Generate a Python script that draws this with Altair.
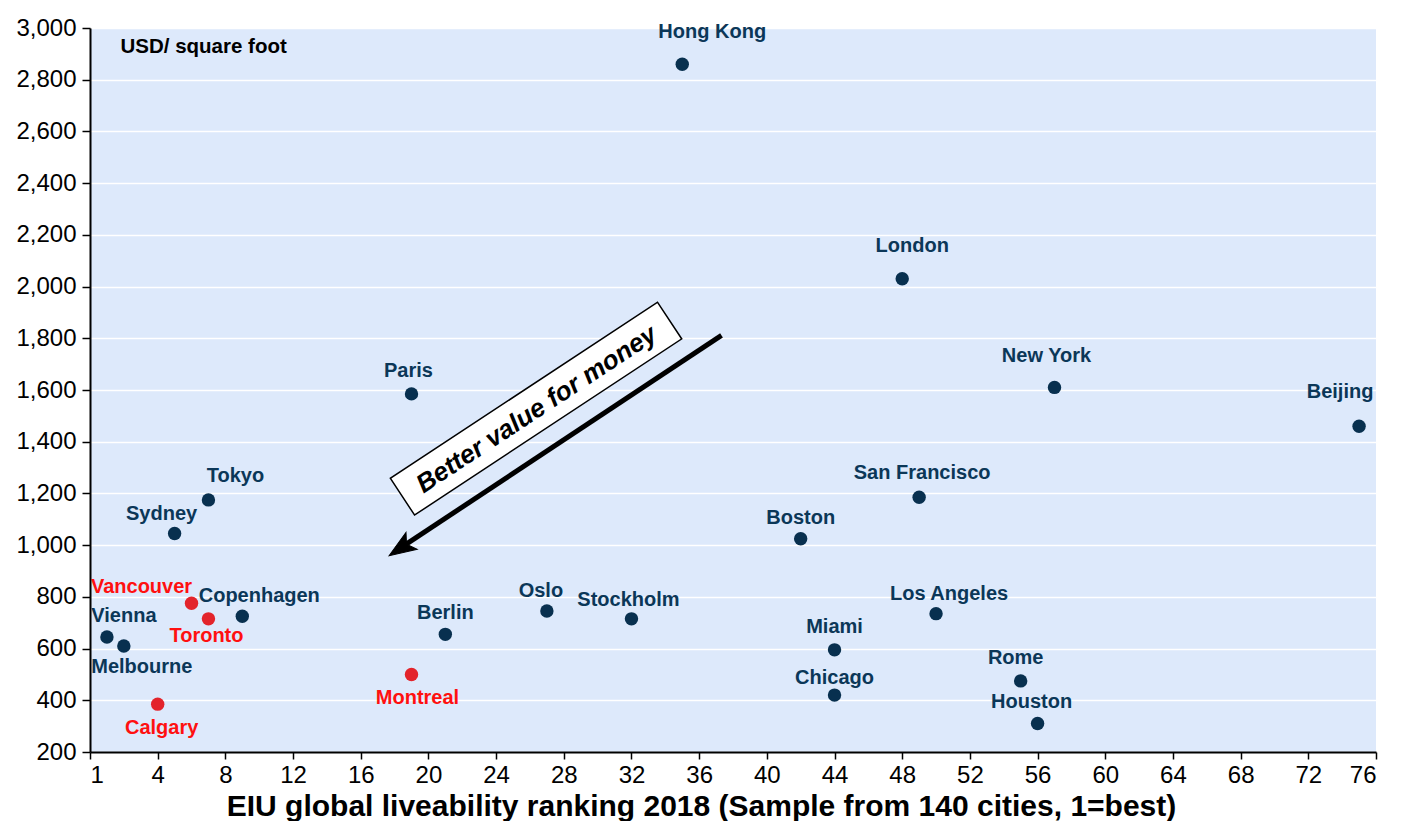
import altair as alt
import pandas as pd

# ---- data ----
cities = ["Hong Kong", "London", "New York", "Beijing", "Paris", "Tokyo", "Sydney",
          "San Francisco", "Boston", "Vancouver", "Copenhagen", "Toronto", "Vienna",
          "Melbourne", "Calgary", "Berlin", "Montreal", "Oslo", "Stockholm",
          "Los Angeles", "Miami", "Chicago", "Rome", "Houston"]
ranking = [35, 48, 57, 75, 19, 7, 5, 49, 42, 6, 9, 7, 1, 2, 4, 21, 19, 27, 32, 50, 44, 44, 55, 56]
price = [2860, 2030, 1610, 1460, 1585, 1175, 1045, 1185, 1025, 775, 725, 715, 645,
         610, 385, 655, 500, 745, 715, 735, 595, 420, 475, 310]
canadian = ["Vancouver", "Toronto", "Calgary", "Montreal"]

x_ticks = list(range(0, 77, 4))
y_ticks = list(range(200, 3001, 200))

# label placement (pixel offsets from the dot)
label_offsets = {
    "Hong Kong": (30, -32), "London": (10, -33), "New York": (-8, -31), "Beijing": (-19, -34),
    "Paris": (-3, -23), "Tokyo": (27, -24), "Sydney": (-13, -20), "San Francisco": (3, -24),
    "Boston": (0, -21), "Vancouver": (-50, -16), "Copenhagen": (17, -20), "Toronto": (-2, 17),
    "Vienna": (17, -21), "Melbourne": (18, 21), "Calgary": (4, 24), "Berlin": (0, -21),
    "Montreal": (6, 24), "Oslo": (-6, -20), "Stockholm": (-3, -19), "Los Angeles": (13, -20),
    "Miami": (0, -23), "Chicago": (0, -17), "Rome": (-5, -23), "Houston": (-6, -22),
}

NAVY_DOT = "#08304f"
NAVY_TXT = "#0b3758"
RED_DOT = "#e3242b"
RED_TXT = "#ff1010"
FONT = "Liberation Sans"

df = pd.DataFrame({"city": cities, "rank": ranking, "price": price})
df["group"] = ["Canada" if c in canadian else "Other" for c in cities]

xscale = alt.Scale(domain=[0, 76], nice=False, zero=False)
yscale = alt.Scale(domain=[200, 3000], nice=False, zero=False)

x_enc = alt.X("rank:Q", scale=xscale,
              axis=alt.Axis(values=x_ticks, grid=False,
                            labelExpr="datum.value == 0 ? '1' : datum.value",
                            title="EIU global liveability ranking 2018 (Sample from 140 cities, 1=best)",
                            titleFontSize=30, titleFontWeight="bold", titleFont=FONT,
                            titlePadding=4, titleColor="black", titleX=611, titleAlign="center",
                            labelFontSize=24, labelFont=FONT, labelColor="black",
                            labelPadding=4, tickSize=7, tickColor="black", tickWidth=1.5,
                            domainColor="black", domainWidth=2))
y_enc = alt.Y("price:Q", scale=yscale,
              axis=alt.Axis(values=y_ticks, grid=True, gridColor="white", gridWidth=1.5,
                            format=",.0f", title=None,
                            labelFontSize=24, labelFont=FONT, labelColor="black",
                            labelPadding=6, tickSize=8, tickColor="black", tickWidth=1.5,
                            domainColor="black", domainWidth=2))

base = alt.Chart(df)

points = base.mark_circle(size=180, opacity=1).encode(
    x=x_enc, y=y_enc,
    color=alt.Color("group:N", scale=alt.Scale(domain=["Canada", "Other"],
                                                range=[RED_DOT, NAVY_DOT]), legend=None),
)

label_layers = []
for c in cities:
    dx, dy = label_offsets[c]
    col = RED_TXT if c in canadian else NAVY_TXT
    label_layers.append(
        base.transform_filter(alt.datum.city == c).mark_text(
            font=FONT, fontSize=20, fontWeight="bold", color=col,
            dx=dx, dy=dy, align="center", baseline="middle"
        ).encode(x="rank:Q", y="price:Q", text="city:N")
    )

# ---- annotations (positions in data units) ----
arrow_df = pd.DataFrame({"x": [37.32], "y": [1811], "x2": [18.6], "y2": [1000]})
head_df = pd.DataFrame({"x": [18.34], "y": [988]})
box_df = pd.DataFrame({"x": [26.36], "y": [1528], "t": ["Better value for money"]})
unit_df = pd.DataFrame({"x": [1.8], "y": [2925], "t": ["USD/ square foot"]})

arrow = alt.Chart(arrow_df).mark_rule(strokeWidth=5, color="black", strokeCap="butt").encode(
    x="x:Q", y="y:Q", x2="x2:Q", y2="y2:Q")
head = alt.Chart(head_df).mark_point(
    shape="M0,-1L0.75,1L0,0.55L-0.75,1Z", filled=True, fill="black", stroke="black",
    strokeWidth=1, size=729, angle=236.5, opacity=1).encode(x="x:Q", y="y:Q")
box = alt.Chart(box_df).mark_point(
    shape="M-1,-0.1375L1,-0.1375L1,0.1375L-1,0.1375Z", filled=True, fill="white",
    stroke="black", strokeWidth=1.5, size=320 * 320, angle=326.6, opacity=1
).encode(x="x:Q", y="y:Q")
box_text = alt.Chart(box_df).mark_text(
    font=FONT, fontSize=26, fontWeight="bold", fontStyle="italic", color="black",
    angle=326.6, align="center", baseline="middle", dy=1).encode(x="x:Q", y="y:Q", text="t:N")
unit_text = alt.Chart(unit_df).mark_text(
    font=FONT, fontSize=20.5, fontWeight="bold", color="black", align="left",
    baseline="middle").encode(x="x:Q", y="y:Q", text="t:N")

chart = alt.layer(points, arrow, head, box, box_text, unit_text, *label_layers).properties(
    width=1286, height=724,
    autosize=alt.AutoSizeParams(type="none"),
    padding={"left": 82, "top": 20, "right": 20, "bottom": 70},
).configure_view(fill="#dde9fb", strokeWidth=0)

chart.save("out.html", embed_options={"renderer": "svg", "actions": False})
